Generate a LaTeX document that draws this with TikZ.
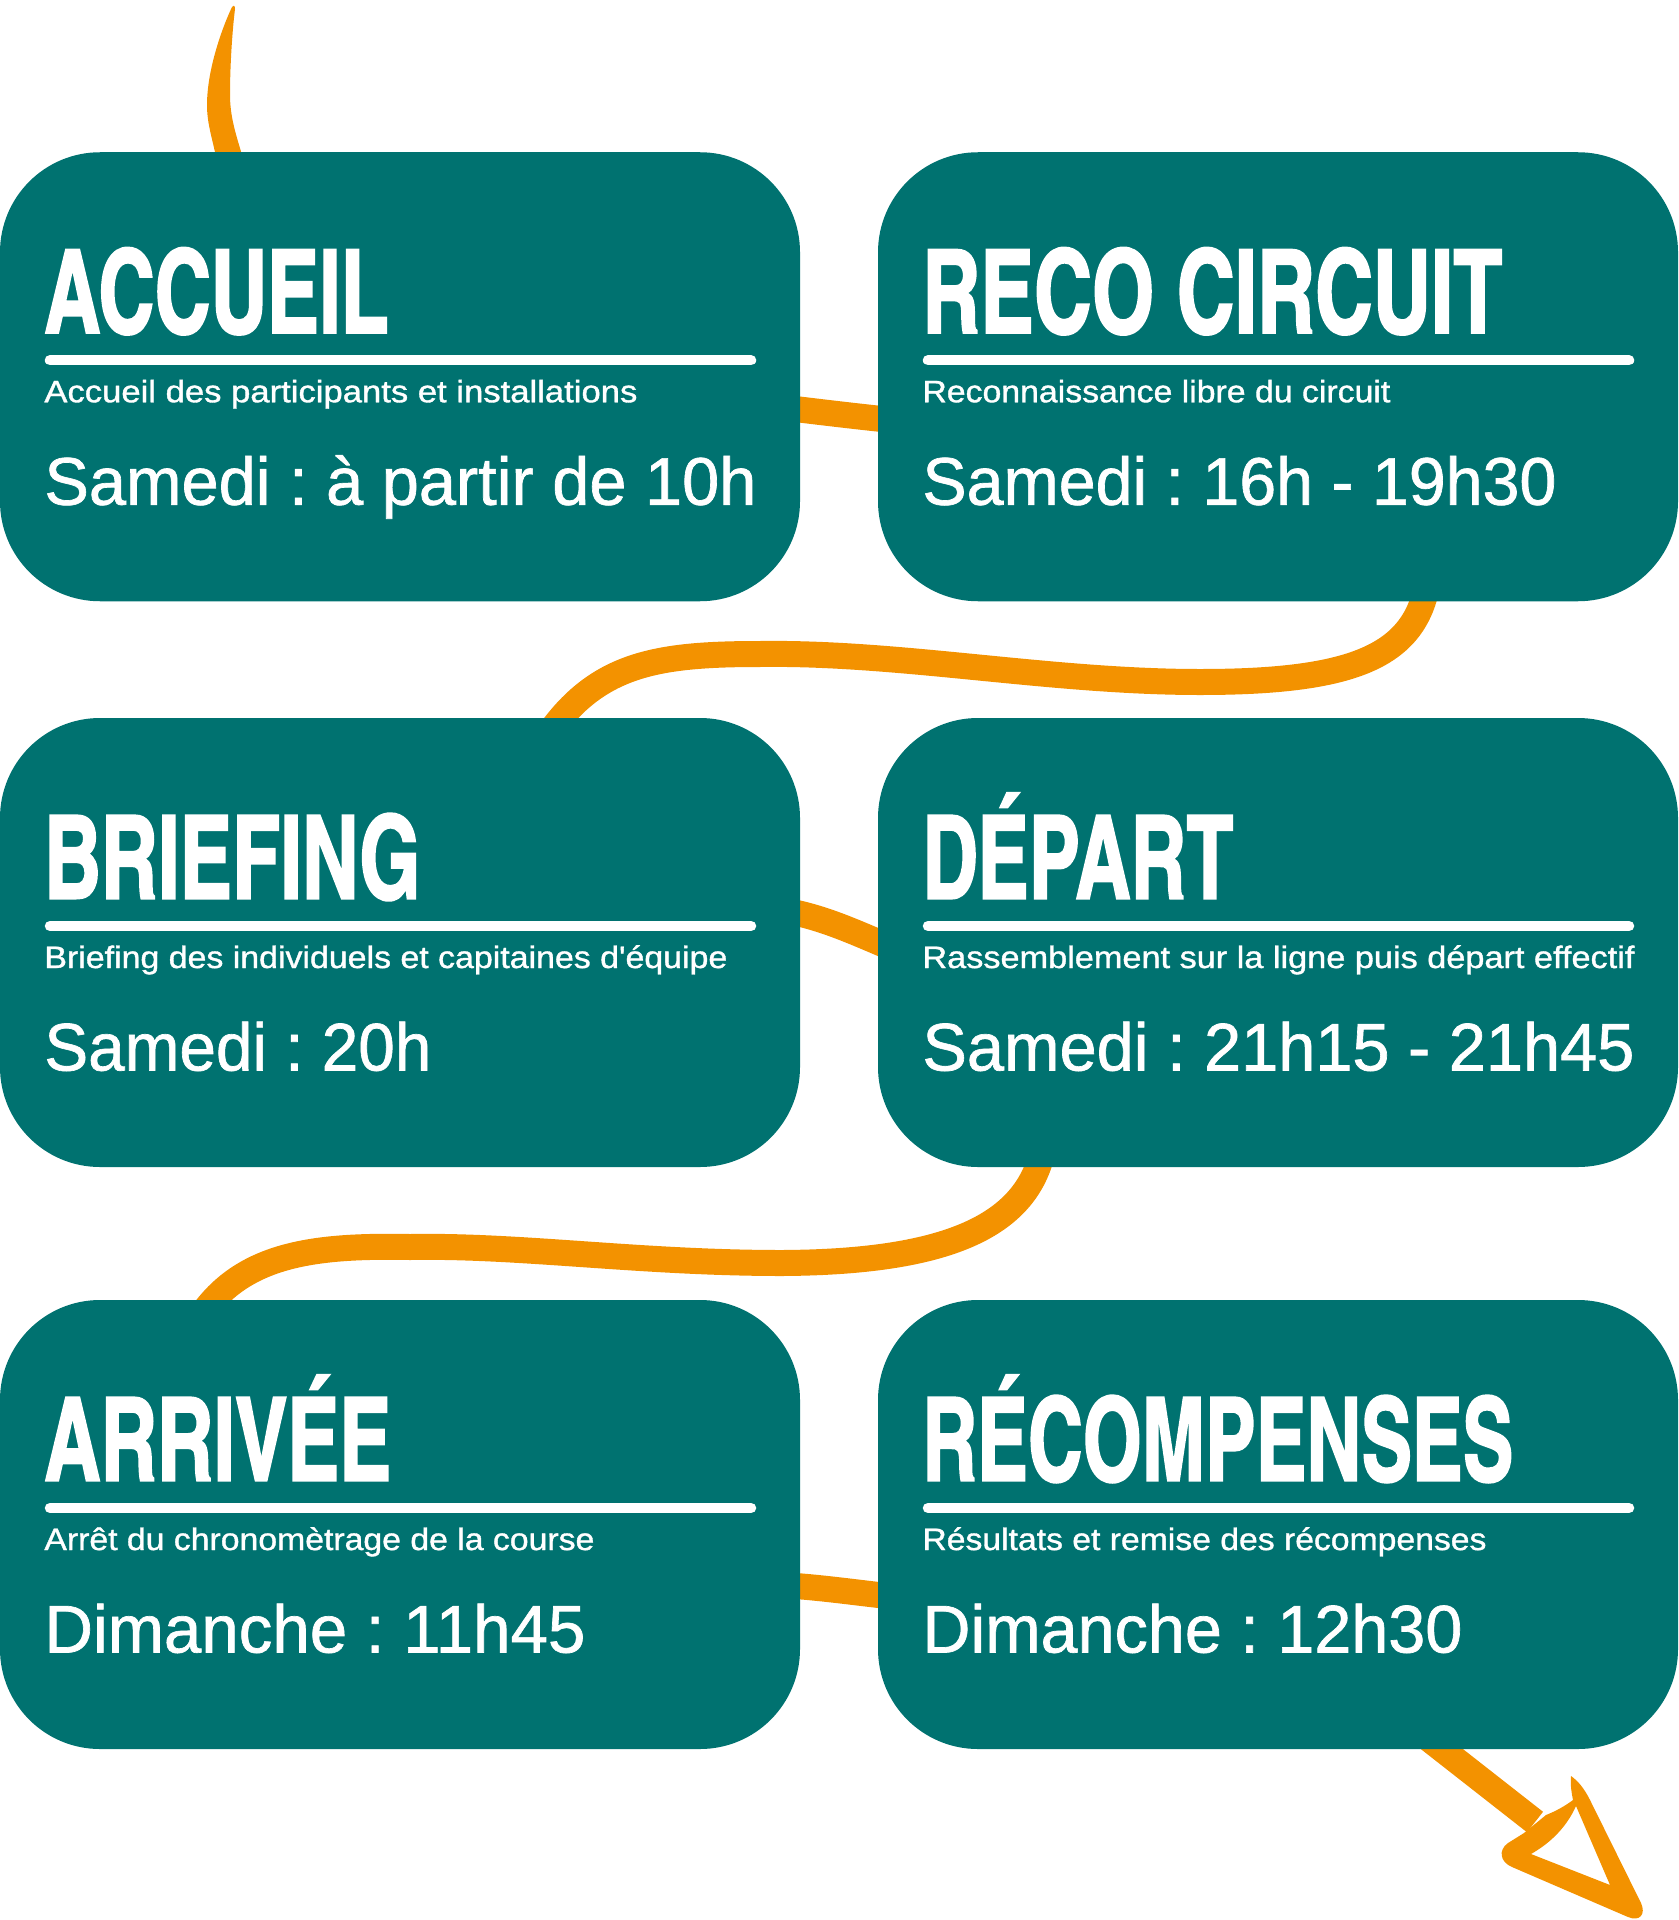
\documentclass[tikz,border=0pt]{standalone}
\usepackage{fontspec}
\usepackage{graphicx}
\usetikzlibrary{calc,backgrounds}
\setmainfont{Liberation Sans}
\newfontfamily\titlefont{texgyreheroscn-bold}[Extension=.otf, FakeBold=1.8]
\newfontfamily\subfont{Liberation Sans}[FakeBold=1.1]
\newfontfamily\timefont{Liberation Sans}[FakeBold=1]
\definecolor{boxteal}{RGB}{0,114,112}
\definecolor{lineorange}{RGB}{243,146,0}
\frenchspacing
\tikzset{
  box/.style={fill=boxteal, draw=none, rounded corners=50pt, minimum width=400pt, minimum height=224.5pt, inner sep=0pt, outer sep=0pt},
  ttl/.style={anchor=base west, inner sep=0pt, text=white, font=\titlefont\fontsize{57.8}{60}\selectfont},
  sub/.style={anchor=base west, inner sep=0pt, text=white, font=\subfont\fontsize{15.5}{18}\selectfont},
  tim/.style={anchor=base west, inner sep=0pt, text=white, font=\timefont\fontsize{33.7}{40}\selectfont},
  rulebar/.style={draw=white, line width=5.25pt, line cap=round},
  conn/.style={draw=lineorange, line width=13pt},
  brush/.style={fill=lineorange, draw=none}
}
\newcommand{\fitw}[2]{\resizebox{#1}{\height}{#2}}
\begin{document}
\begin{tikzpicture}[x=0.5pt, y=-0.5pt]
\useasboundingbox (0,0) rectangle (1679,1920);

% boxes
\node[box] (b1) at (400,376.75) {};
\node[box] (b2) at (1278,376.75) {};
\node[box] (b3) at (400,942.5) {};
\node[box] (b4) at (1278,942.5) {};
\node[box] (b5) at (400,1524.5) {};
\node[box] (b6) at (1278,1524.5) {};

% box contents
\foreach \b/\t/\tw/\s/\sw/\h/\hw in {
  b1/ACCUEIL/172pt/Accueil des participants et installations/296.5pt/Samedi : à partir de 10h/356pt,
  b2/RECO CIRCUIT/290pt/Reconnaissance libre du circuit/234pt/Samedi : 16h - 19h30/317pt,
  b3/BRIEFING/188pt/Briefing des individuels et capitaines d'équipe/341.5pt/Samedi : 20h/193.5pt,
  b4/DÉPART/155.5pt/Rassemblement sur la ligne puis départ effectif/356pt/Samedi : 21h15 - 21h45/356pt,
  b5/ARRIVÉE/173.5pt/Arrêt du chronomètrage de la course/275pt/Dimanche : 11h45/270.5pt,
  b6/RÉCOMPENSES/295.5pt/Résultats et remise des récompenses/282pt/Dimanche : 12h30/270pt}{
  \node[ttl] (\b-title) at ($(\b.north west)+(44,180.5)$) {\fitw{\tw}{\t}};
  \draw[rulebar] ($(\b.north west)+(50,208)$) -- ($(\b.north west)+(751,208)$);
  \node[sub] (\b-sub) at ($(\b.north west)+(44,250)$) {\fitw{\sw}{\s}};
  \node[tim] (\b-time) at ($(\b.north west)+(44,352.5)$) {\fitw{\hw}{\h}};
}

% connectors behind the boxes
\coordinate (tailstart) at (232,7);
\coordinate (arrowjoin) at (1535,1822);
\begin{scope}[on background layer]
  % entering stroke
  \fill[brush] (tailstart) .. controls (222,28) and (207,70) .. (207,105)
     .. controls (207,125) and (213,140) .. (217,162) -- (244,162)
     .. controls (238,140) and (230,120) .. (230,95)
     .. controls (230,60) and (233,25) .. (235,9)
     .. controls (235,5) and (233,5) .. (tailstart) -- cycle;
  % row 1
  \draw[conn] ($(b1.east)+(-40,28)$) .. controls (820,412) and (860,417) .. ($(b2.west)+(40,46)$);
  % row1 -> row2
  \draw[conn] ($(b2.south)+(152,-40)$) .. controls (1425,650) and (1370,682) .. (1200,682)
     .. controls (1050,682) and (900,652) .. (760,654)
     .. controls (650,654) and (590,665) .. ($(b3.north)+(138,32)$);
  % row 2
  \draw[conn] ($(b3.east)+(-40,-35)$) .. controls (820,912) and (860,936) .. ($(b4.west)+(40,16)$);
  % row2 -> row3
  \draw[conn] ($(b4.south)+(-233,-30)$) .. controls (1035,1220) and (960,1262) .. (782,1263)
     .. controls (640,1263) and (520,1245) .. (410,1247)
     .. controls (310,1245) and (240,1255) .. ($(b5.north)+(-202,20)$);
  % row 3
  \draw[conn] ($(b5.east)+(-40,59.5)$) .. controls (820,1586) and (860,1594) .. ($(b6.west)+(40,74.5)$);
  % final arrow
  \draw[conn] ($(b6.south)+(114,-39)$) -- (arrowjoin);
\end{scope}
\fill[brush, even odd rule] (1524,1833) -- (1508,1843)
   .. controls (1498,1850) and (1500,1862) .. (1512,1867)
   -- (1628,1917) .. controls (1640,1922) and (1646,1914) .. (1641,1903)
   -- (1590,1800) .. controls (1584,1788) and (1578,1781) .. (1571,1776)
   .. controls (1570,1785) and (1572,1795) .. (1573,1800)
   .. controls (1565,1806) and (1556,1811) .. (1546,1815) -- cycle
   (1576,1806) -- (1610,1885) -- (1531,1854)
   .. controls (1552,1842) and (1567,1826) .. (1576,1806) -- cycle;
\end{tikzpicture}
\end{document}
